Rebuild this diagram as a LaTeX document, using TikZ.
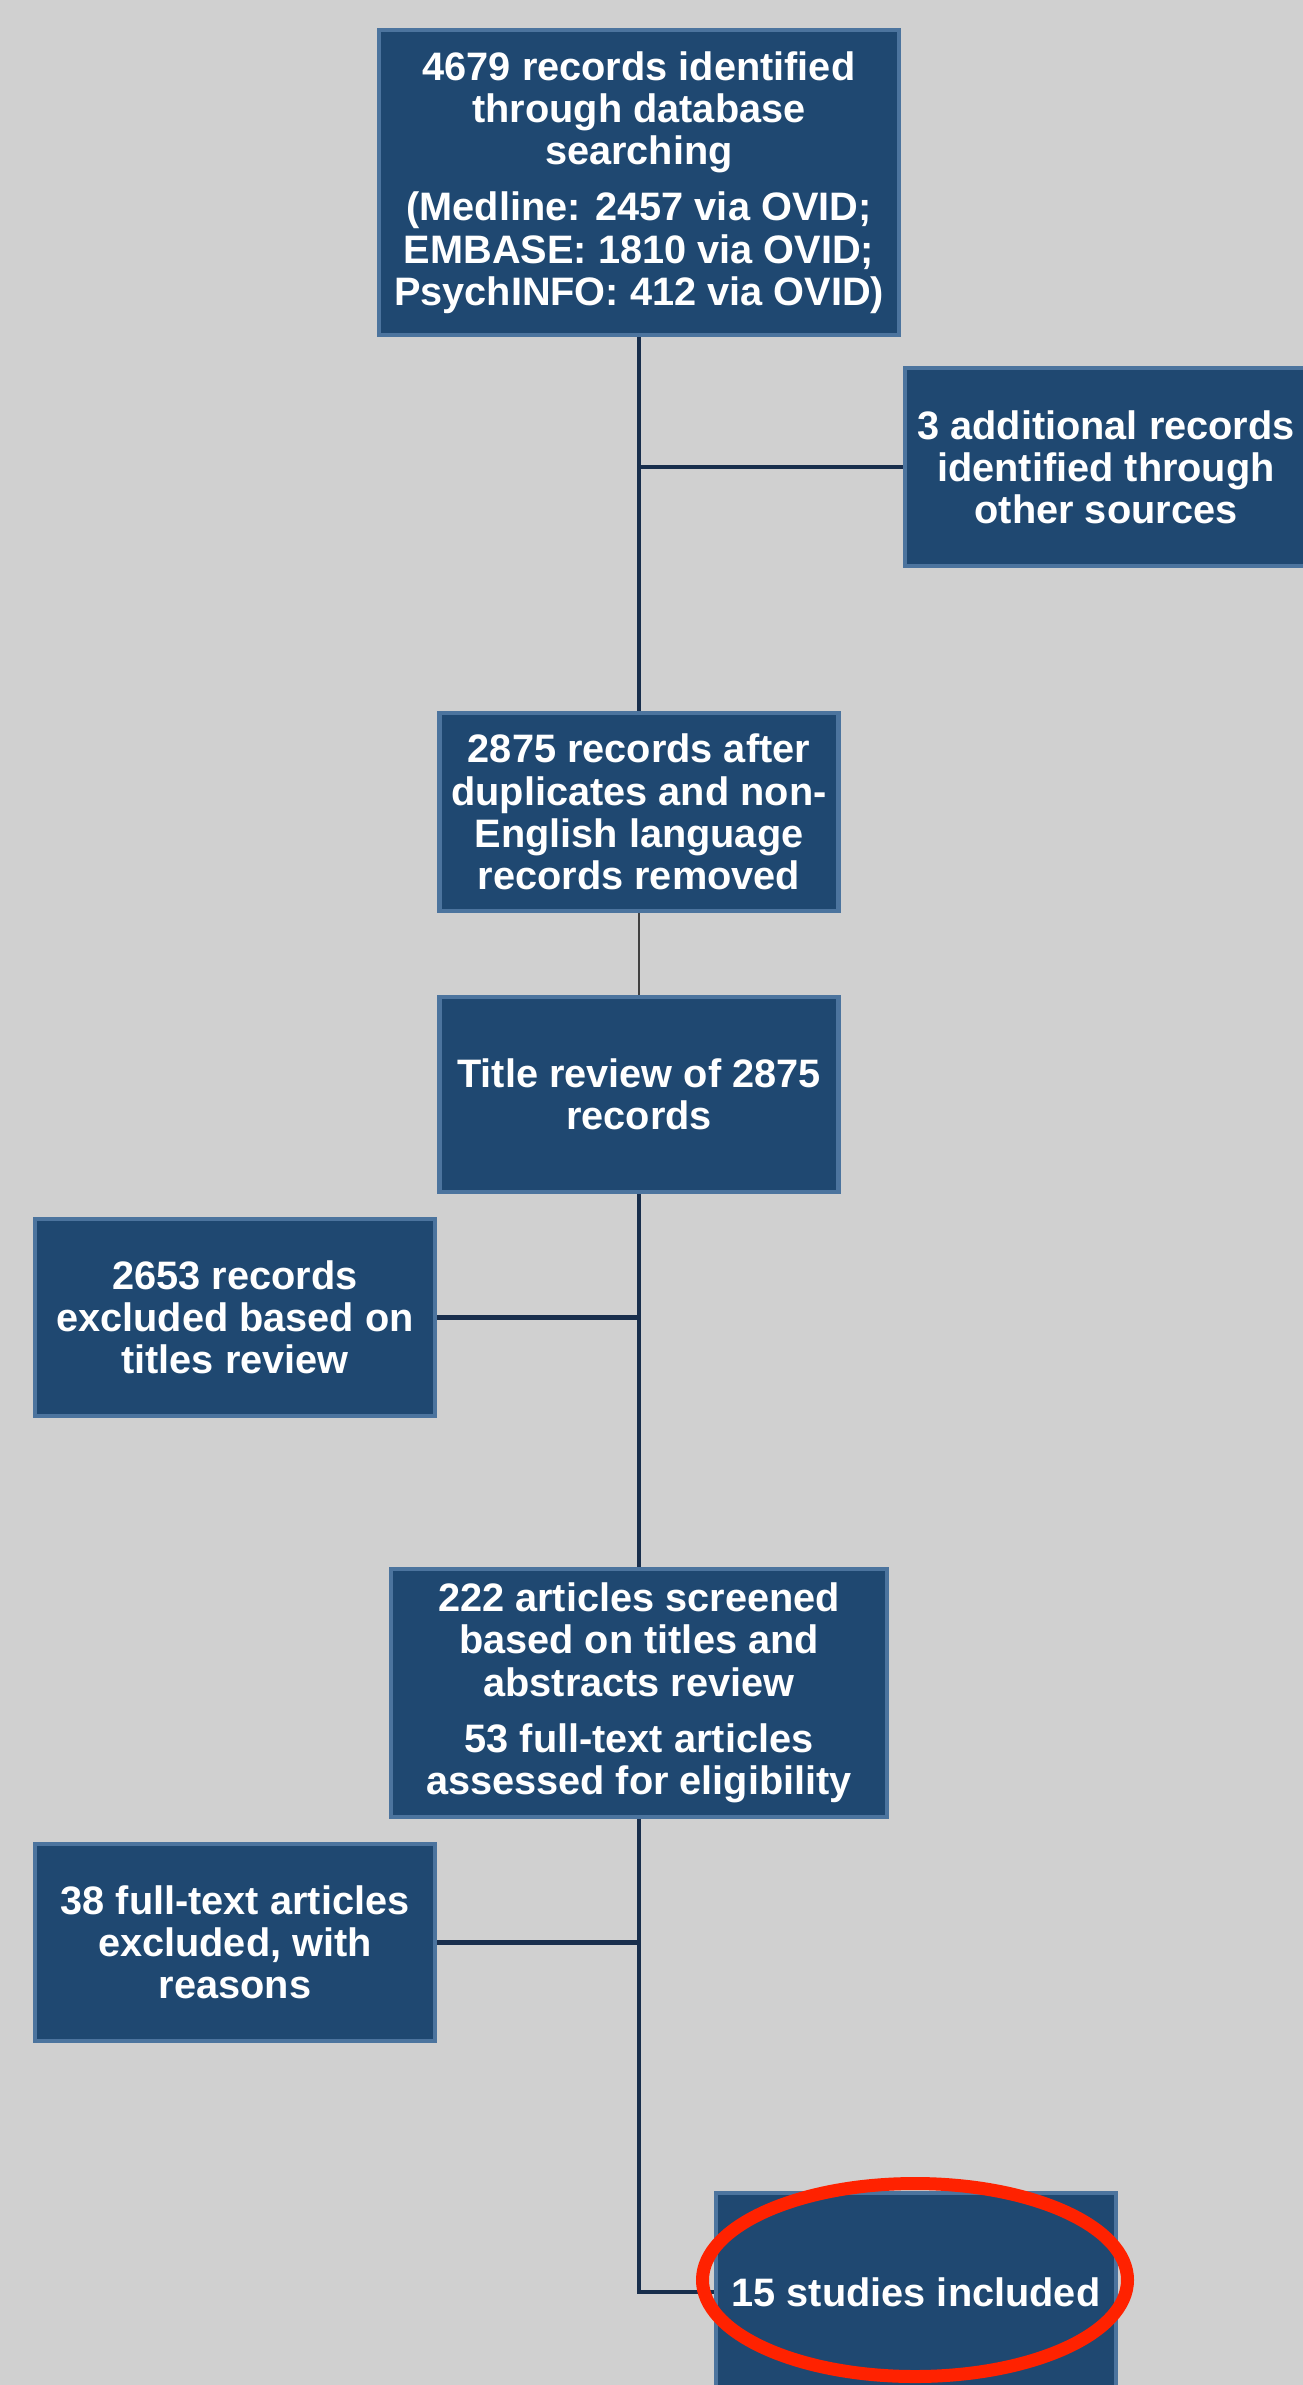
\documentclass[tikz,border=0pt]{standalone}
\usepackage{fontspec}
\setmainfont{Liberation Sans}
\usepackage{xcolor}
\usepackage{tikz}
\usetikzlibrary{positioning,calc}
\definecolor{pagegray}{RGB}{208, 208, 208}
\definecolor{prismablue}{RGB}{31, 72, 113}
\definecolor{prismaedge}{RGB}{76, 116, 158}
\definecolor{linknavy}{RGB}{24, 46, 76}
\definecolor{markred}{RGB}{255, 34, 0}

\begin{document}
\begin{tikzpicture}[
        stage/.style={draw=prismaedge, line width=1.4pt, fill=prismablue, text=white, align=center, inner sep=2pt, font=\fontsize{11.3}{12}\selectfont\bfseries},
        link/.style={draw=linknavy, line width=1.3pt},
        thinlink/.style={draw=black!75, line width=0.6pt}
    ]
        % Page
        \fill[pagegray] (0, 0) rectangle (13.03, -23.85);
        \useasboundingbox (0, 0) rectangle (13.03, -23.85);
        \clip (0, 0) rectangle (13.03, -23.85);

        % Identification
        \node[stage, minimum width=5.20cm, minimum height=3.05cm] (search) at (6.39, -1.825) {4679 records identified\\through database\\searching\\[4pt](Medline: 2457 via OVID;\\EMBASE: 1810 via OVID;\\PsychINFO: 412 via OVID)};
        \node[stage, minimum width=4.02cm, minimum height=1.98cm] (other) at (11.06, -4.67) {3 additional records\\identified through\\other sources};

        % Screening
        \node[stage, minimum width=3.99cm, minimum height=1.98cm] (dedup) at (6.39, -8.12) {2875 records after\\duplicates and non-\\English language\\records removed};
        \node[stage, minimum width=3.99cm, minimum height=1.95cm] (title) at (6.39, -10.945) {Title review of 2875\\records};
        \node[stage, minimum width=4.00cm, minimum height=1.97cm] (excltitle) at (2.35, -13.175) {2653 records\\excluded based on\\titles review};

        % Eligibility
        \node[stage, minimum width=4.96cm, minimum height=2.48cm] (screen) at (6.39, -16.93) {222 articles screened\\based on titles and\\abstracts review\\[4pt]53 full-text articles\\assessed for eligibility};
        \node[stage, minimum width=4.00cm, minimum height=1.97cm] (exclfull) at (2.35, -19.425) {38 full-text articles\\excluded, with\\reasons};

        % Included
        \node[stage, minimum width=4.00cm, minimum height=1.98cm] (incl) at (9.16, -22.92) {15 studies included};

        % Connectors
        \coordinate (turn) at (search.south |- incl.west);
        \draw[link] (search) -- (dedup);
        \draw[link] (other.west) -- (other.west -| search.south);
        \draw[thinlink] (dedup) -- (title);
        \draw[link] (title) -- (screen);
        \draw[link] (excltitle.east) -- (excltitle.east -| title.south);
        \draw[link] (screen.south) -- (turn) -- (incl.west);
        \draw[link] (exclfull.east) -- (exclfull.east -| screen.south);

        % Highlight
        \draw[markred, line width=3.7pt] (9.15, -22.80) ellipse [x radius=2.125, y radius=0.965];
    \end{tikzpicture}
\end{document}
